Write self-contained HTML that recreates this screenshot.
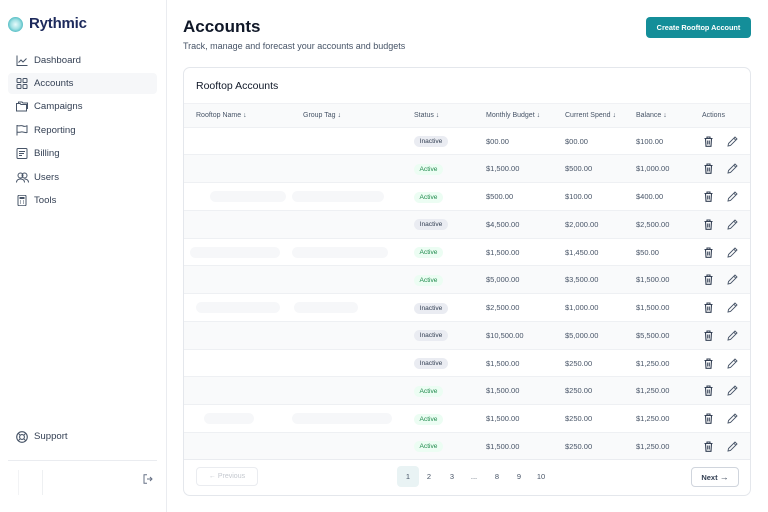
<!DOCTYPE html>
<html><head><meta charset="utf-8">
<style>
*{box-sizing:border-box;margin:0;padding:0}
html,body{width:768px;height:512px;overflow:hidden;background:#fff;font-family:"Liberation Sans",sans-serif;color:#101828}
.abs{position:absolute}
.side{position:absolute;left:0;top:0;width:167px;height:512px;border-right:1px solid #eaecf0;background:#fff}
.nav{position:absolute;left:8px;width:149px;height:21px;border-radius:4px;font-size:9.6px;color:#344054;line-height:21px}
.nav svg{position:absolute;left:8px;top:5px}
.nav span{position:absolute;left:26px;top:0}
.nav.active{background:#f6f7f9}
.card{position:absolute;left:183px;top:67px;width:568px;height:429px;border:1px solid #e4e7ec;border-radius:7px;overflow:hidden;background:#fff}
.th{position:absolute;top:0;font-size:7px;color:#475467;line-height:24px;white-space:nowrap}
.row{position:absolute;left:0;width:568px;height:27.75px;border-top:1px solid #eef0f3}
.g{background:#f9fafb}
.cell{position:absolute;top:0;font-size:7.5px;color:#475467;line-height:27px;white-space:nowrap}
.c1{left:302px}.c2{left:381px}.c3{left:452px}
.badge{position:absolute;left:230px;top:8.5px;height:11px;border-radius:6px;font-size:6.6px;line-height:11px;text-align:center}
.in{background:#eaecf2;color:#344054;width:34px}
.ac{background:#ecfdf3;color:#1f8a4c;width:29px}
.tr{position:absolute;left:520px;top:8px;width:9px;height:11px}
.pe{position:absolute;left:543px;top:8px;width:11px;height:11px}
.blob{position:absolute;top:8px;height:11px;background:#f6f7f9;border-radius:6px}
.pg{position:absolute;top:466px;font-size:7.5px;color:#475467;width:22px;height:21px;line-height:21px;text-align:center;border-radius:4px}
</style></head><body>
<svg width="0" height="0" style="position:absolute">
<defs>
<symbol id="trash" viewBox="0 0 9 11"><path d="M0.5 2.5H8.5M3 2.5V1H6V2.5M1.5 2.5L2 10.3H7L7.5 2.5" stroke="#344054" fill="none" stroke-width="1.1"/><path d="M3.7 4.5V8.5M5.3 4.5V8.5" stroke="#344054" stroke-width="1"/></symbol>
<symbol id="pen" viewBox="0 0 11 11"><path d="M1 10L1.5 7.5L8 1L10 3L3.5 9.5Z M6.8 2.2L8.8 4.2" stroke="#475467" fill="none" stroke-width="0.9"/></symbol>
</defs></svg>
<div class="side">
  <div class="abs" style="left:8px;top:17px;width:15px;height:15px;border-radius:50%;background:radial-gradient(circle at 50% 50%,#e8fbfb 0%,#9fe0e3 45%,#3fb3bb 80%,#2a9aa3 100%)"></div>
  <div class="abs" style="left:29px;top:13px;font-size:15px;font-weight:bold;color:#1d2a5c;line-height:22px;letter-spacing:-0.2px">Rythmic</div>

  <div class="nav" style="top:50px"><svg width="12" height="11" viewBox="0 0 12 11"><path d="M1 0.5V10.5H11.5" stroke="#475467" fill="none" stroke-width="1"/><path d="M2.5 7.5L5 5L7 7L10.5 3.5" stroke="#475467" fill="none" stroke-width="1"/></svg><span>Dashboard</span></div>
  <div class="nav active" style="top:73px"><svg width="12" height="11" viewBox="0 0 12 11"><rect x="1" y="0.5" width="4" height="4" rx="0.8" stroke="#475467" fill="none"/><rect x="7" y="0.5" width="4" height="4" rx="0.8" stroke="#475467" fill="none"/><rect x="1" y="6.5" width="4" height="4" rx="0.8" stroke="#475467" fill="none"/><rect x="7" y="6.5" width="4" height="4" rx="0.8" stroke="#475467" fill="none"/></svg><span>Accounts</span></div>
  <div class="nav" style="top:96px"><svg width="12" height="11" viewBox="0 0 12 11"><path d="M0.5 2.5H4L5 3.5H10.5V10H0.5Z" stroke="#475467" fill="none"/><path d="M2.5 2.5V1H6L7 2H11.5V8" stroke="#475467" fill="none"/></svg><span>Campaigns</span></div>
  <div class="nav" style="top:120px"><svg width="12" height="11" viewBox="0 0 12 11"><path d="M1 10.5V0.5C3 1.5 5 0 7 1S10 1 11 0.8V7.5C9 8 7 6.5 5 7S2.5 7.5 1 7" stroke="#475467" fill="none"/></svg><span>Reporting</span></div>
  <div class="nav" style="top:143px"><svg width="12" height="11" viewBox="0 0 12 11"><rect x="1" y="0.5" width="10" height="10" rx="1" stroke="#475467" fill="none"/><path d="M3 3.5H9M3 5.5H8M3 7.5H6" stroke="#475467"/></svg><span>Billing</span></div>
  <div class="nav" style="top:167px"><svg width="13" height="11" viewBox="0 0 13 11"><circle cx="4.5" cy="3.5" r="2.5" stroke="#475467" fill="none"/><circle cx="8.5" cy="3.5" r="2.5" stroke="#475467" fill="none"/><path d="M0.5 10.5C0.5 8 2.5 7 4.5 7S8.5 8 8.5 10.5M8.5 7C10.5 7 12.5 8 12.5 10.5" stroke="#475467" fill="none"/></svg><span>Users</span></div>
  <div class="nav" style="top:190px"><svg width="12" height="11" viewBox="0 0 12 11"><rect x="2" y="0.3" width="8" height="10.4" rx="1" stroke="#475467" fill="none"/><rect x="3.5" y="2" width="5" height="2" fill="#475467"/><path d="M4 6H5M7 6H8M4 8H5M7 8H8" stroke="#475467"/></svg><span>Tools</span></div>

  <div class="nav" style="top:426px"><svg width="12" height="12" viewBox="0 0 12 12" style="top:4.5px"><circle cx="6" cy="6" r="5.3" stroke="#475467" fill="none" stroke-width="1.1"/><circle cx="6" cy="6" r="2.4" stroke="#475467" fill="none" stroke-width="1.1"/><path d="M2.3 2.3L4.3 4.3M9.7 2.3L7.7 4.3M2.3 9.7L4.3 7.7M9.7 9.7L7.7 7.7" stroke="#475467"/></svg><span>Support</span></div>
  <div class="abs" style="left:8px;top:460px;width:149px;height:1px;background:#eaecf0"></div>
  <div class="abs" style="left:18px;top:470px;width:1px;height:25px;background:#f2f3f5"></div>
  <div class="abs" style="left:42px;top:470px;width:1px;height:25px;background:#eef0f2"></div>
  <svg class="abs" style="left:143px;top:474px" width="10" height="10" viewBox="0 0 10 10"><path d="M4 0.8H1V9.2H4" stroke="#667085" fill="none"/><path d="M4 5H9M7 3L9 5L7 7" stroke="#667085" fill="none"/></svg>
</div>

<div class="abs" style="left:183px;top:15px;font-size:17px;font-weight:bold;color:#101828;line-height:24px">Accounts</div>
<div class="abs" style="left:183px;top:40px;font-size:9px;color:#475467;line-height:12px">Track, manage and forecast your accounts and budgets</div>
<div class="abs" style="left:646px;top:17px;width:105px;height:21px;background:#148e99;border-radius:4px;color:#fff;font-size:7.3px;font-weight:bold;line-height:21px;text-align:center">Create Rooftop Account</div>

<div class="card">
  <div class="abs" style="left:12px;top:11px;font-size:10.5px;color:#101828;line-height:14px">Rooftop Accounts</div>
  <div class="abs" style="left:0;top:35px;width:568px;height:24px;background:#f9fafb;border-top:1px solid #f0f1f4">
    <div class="th" style="left:12px">Rooftop Name &#8595;</div>
    <div class="th" style="left:119px">Group Tag &#8595;</div>
    <div class="th" style="left:230px">Status &#8595;</div>
    <div class="th" style="left:302px">Monthly Budget &#8595;</div>
    <div class="th" style="left:381px">Current Spend &#8595;</div>
    <div class="th" style="left:452px">Balance &#8595;</div>
    <div class="th" style="left:518px">Actions</div>
  </div>

  <div class="row" style="top:58.5px"><div class="badge in">Inactive</div><div class="cell c1">$00.00</div><div class="cell c2">$00.00</div><div class="cell c3">$100.00</div><svg class="tr"><use href="#trash"/></svg><svg class="pe"><use href="#pen"/></svg></div>
  <div class="row g" style="top:86.25px"><div class="badge ac">Active</div><div class="cell c1">$1,500.00</div><div class="cell c2">$500.00</div><div class="cell c3">$1,000.00</div><svg class="tr"><use href="#trash"/></svg><svg class="pe"><use href="#pen"/></svg></div>
  <div class="row" style="top:114px"><div class="blob" style="left:26px;width:76px"></div><div class="blob" style="left:108px;width:92px"></div><div class="badge ac">Active</div><div class="cell c1">$500.00</div><div class="cell c2">$100.00</div><div class="cell c3">$400.00</div><svg class="tr"><use href="#trash"/></svg><svg class="pe"><use href="#pen"/></svg></div>
  <div class="row g" style="top:141.75px"><div class="badge in">Inactive</div><div class="cell c1">$4,500.00</div><div class="cell c2">$2,000.00</div><div class="cell c3">$2,500.00</div><svg class="tr"><use href="#trash"/></svg><svg class="pe"><use href="#pen"/></svg></div>
  <div class="row" style="top:169.5px"><div class="blob" style="left:6px;width:90px"></div><div class="blob" style="left:108px;width:96px"></div><div class="badge ac">Active</div><div class="cell c1">$1,500.00</div><div class="cell c2">$1,450.00</div><div class="cell c3">$50.00</div><svg class="tr"><use href="#trash"/></svg><svg class="pe"><use href="#pen"/></svg></div>
  <div class="row g" style="top:197.25px"><div class="badge ac">Active</div><div class="cell c1">$5,000.00</div><div class="cell c2">$3,500.00</div><div class="cell c3">$1,500.00</div><svg class="tr"><use href="#trash"/></svg><svg class="pe"><use href="#pen"/></svg></div>
  <div class="row" style="top:225px"><div class="blob" style="left:12px;width:84px"></div><div class="blob" style="left:110px;width:64px"></div><div class="badge in">Inactive</div><div class="cell c1">$2,500.00</div><div class="cell c2">$1,000.00</div><div class="cell c3">$1,500.00</div><svg class="tr"><use href="#trash"/></svg><svg class="pe"><use href="#pen"/></svg></div>
  <div class="row g" style="top:252.75px"><div class="badge in">Inactive</div><div class="cell c1">$10,500.00</div><div class="cell c2">$5,000.00</div><div class="cell c3">$5,500.00</div><svg class="tr"><use href="#trash"/></svg><svg class="pe"><use href="#pen"/></svg></div>
  <div class="row" style="top:280.5px"><div class="badge in">Inactive</div><div class="cell c1">$1,500.00</div><div class="cell c2">$250.00</div><div class="cell c3">$1,250.00</div><svg class="tr"><use href="#trash"/></svg><svg class="pe"><use href="#pen"/></svg></div>
  <div class="row g" style="top:308.25px"><div class="badge ac">Active</div><div class="cell c1">$1,500.00</div><div class="cell c2">$250.00</div><div class="cell c3">$1,250.00</div><svg class="tr"><use href="#trash"/></svg><svg class="pe"><use href="#pen"/></svg></div>
  <div class="row" style="top:336px"><div class="blob" style="left:20px;width:50px"></div><div class="blob" style="left:108px;width:100px"></div><div class="badge ac">Active</div><div class="cell c1">$1,500.00</div><div class="cell c2">$250.00</div><div class="cell c3">$1,250.00</div><svg class="tr"><use href="#trash"/></svg><svg class="pe"><use href="#pen"/></svg></div>
  <div class="row g" style="top:363.75px"><div class="badge ac">Active</div><div class="cell c1">$1,500.00</div><div class="cell c2">$250.00</div><div class="cell c3">$1,250.00</div><svg class="tr"><use href="#trash"/></svg><svg class="pe"><use href="#pen"/></svg></div>

  <div class="abs" style="left:0;top:391px;width:568px;height:1px;background:#eaecf0"></div>
  <div class="abs" style="left:12px;top:399px;width:62px;height:19px;border:1px solid #eaecf0;border-radius:4px;font-size:7px;color:#c4c8cf;line-height:17px;text-align:center">&#8592; Previous</div>
  <div class="abs" style="left:507px;top:399px;width:48px;height:20px;border:1px solid #d0d5dd;border-radius:4px;font-size:7.5px;font-weight:bold;color:#344054;line-height:18px;text-align:center">Next <span style="font-size:9px">&#8594;</span></div>
</div>
<div class="pg" style="left:397px;background:#e9f3f4">1</div>
<div class="pg" style="left:418px">2</div>
<div class="pg" style="left:441px">3</div>
<div class="pg" style="left:463px">...</div>
<div class="pg" style="left:486px">8</div>
<div class="pg" style="left:508px">9</div>
<div class="pg" style="left:530px">10</div>
</body></html>
